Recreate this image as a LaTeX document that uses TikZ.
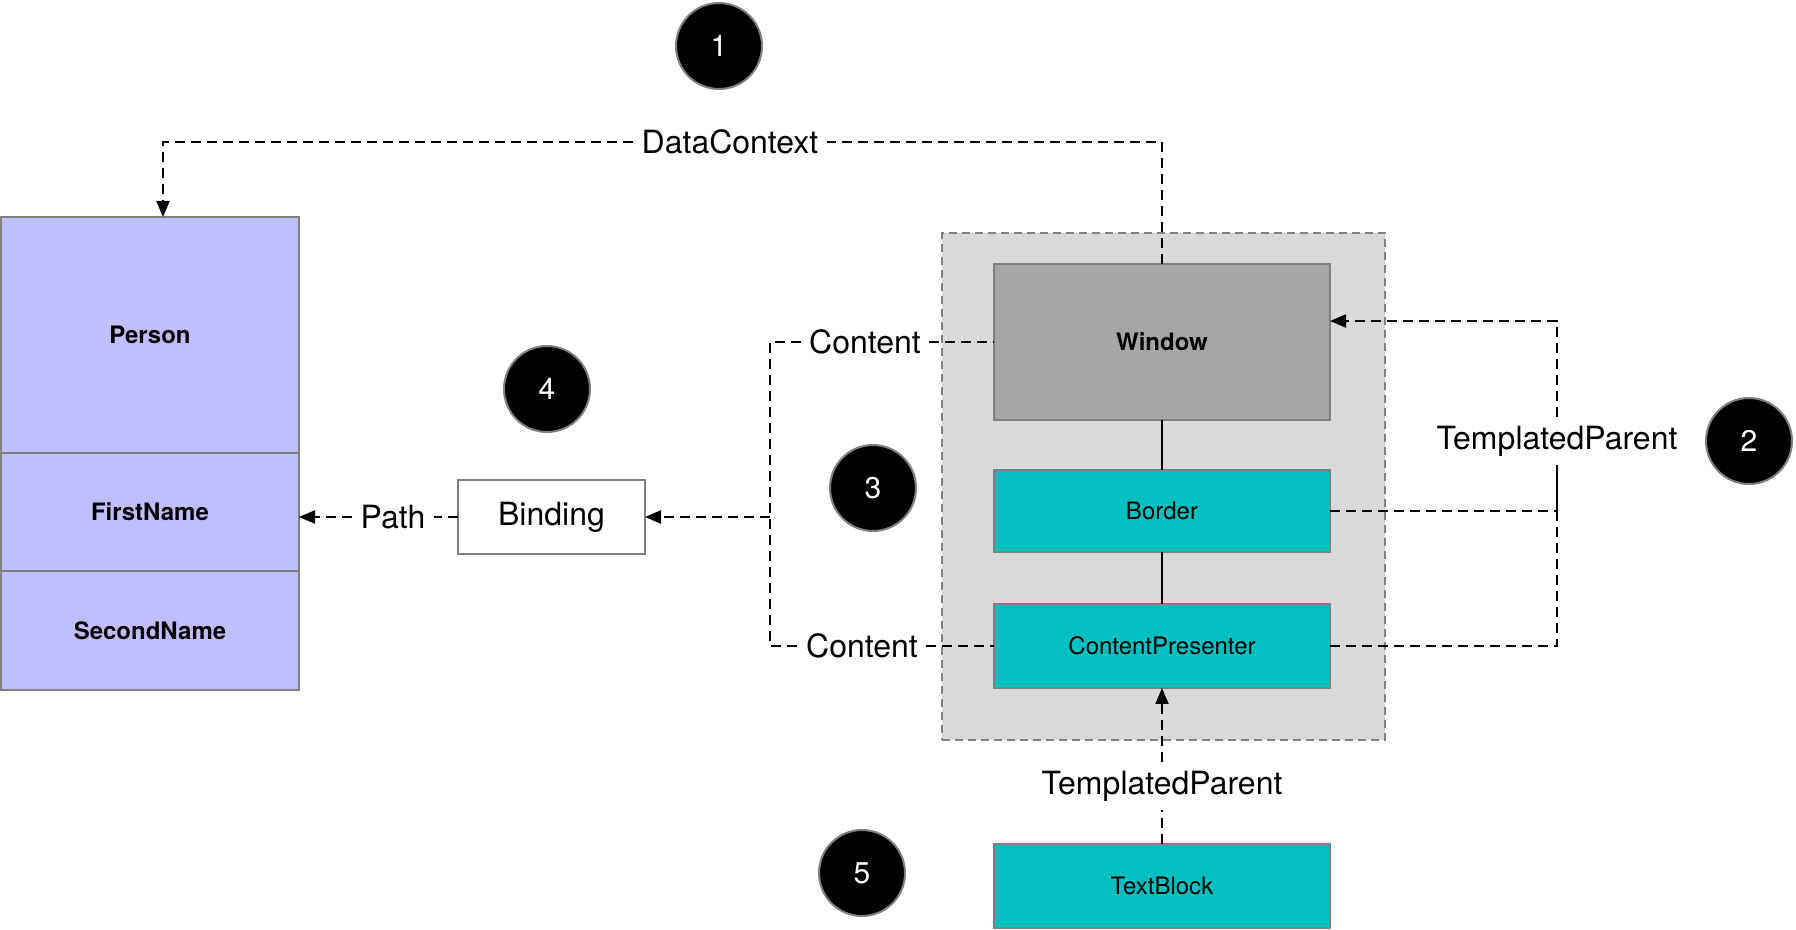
\documentclass[tikz,border=0pt]{standalone}
\usepackage{fontspec}
\setmainfont{TeX Gyre Heros}
\usetikzlibrary{arrows.meta}
\definecolor{personblue}{RGB}{191,191,255}
\definecolor{ctlcyan}{RGB}{0,191,191}
\definecolor{wingray}{RGB}{166,166,166}
\definecolor{boxgray}{RGB}{128,128,128}
\definecolor{tmplgray}{RGB}{217,217,217}
\begin{document}
\begin{tikzpicture}[x=0.5pt, y=-0.5pt,
  >={Triangle[length=8pt,width=6.5pt]},
  dline/.style={line width=1pt, dash pattern=on 5pt off 3pt},
  box/.style={draw=boxgray, line width=1pt, inner sep=0pt, outer sep=0pt,
    minimum width=168pt, font=\fontsize{12}{14}\selectfont},
  field/.style={box, fill=personblue, minimum width=149pt, font=\fontsize{12}{14}\selectfont\bfseries},
  ctl/.style={box, fill=ctlcyan},
  elabel/.style={inner sep=4pt, font=\fontsize{16}{19}\selectfont},
  num/.style={circle, fill=black, draw=boxgray, line width=1pt, minimum size=43pt,
    inner sep=0pt, text=white, font=\fontsize{15}{18}\selectfont}]
  \useasboundingbox (0,0) rectangle (1796,930);
  % template area
  \node[draw=boxgray, fill=tmplgray, line width=1pt, dash pattern=on 4pt off 2.5pt,
    minimum width=221.5pt, minimum height=253.5pt] (tmpl) at (1163.5,486.5) {};
  % data object
  \node[field, minimum height=118pt]  (person)     at (150,335)   {Person};
  \node[field, minimum height=59pt]   (firstname)  at (150,512)   {FirstName};
  \node[field, minimum height=59.5pt] (secondname) at (150,630.5) {SecondName};
  \node[box, minimum width=93.5pt, minimum height=37pt, fill=white,
    font=\fontsize{16}{19}\selectfont] (binding) at (551.5,517) {Binding};
  % visual tree
  \node[box, fill=wingray, minimum height=78pt, font=\fontsize{12}{14}\selectfont\bfseries]
    (window) at (1162,342) {Window};
  \node[ctl, minimum height=41pt] (border)    at (1162,511) {Border};
  \node[ctl, minimum height=42pt] (cp)        at (1162,646) {ContentPresenter};
  \node[ctl, minimum height=42pt] (textblock) at (1162,886) {TextBlock};
  % labels
  \node[elabel] (dc)   at (730,142)  {DataContext};
  \node[elabel] (path) at (393,517)  {Path};
  \node[elabel] (cnt1) at (865,342)  {Content};
  \node[elabel] (cnt2) at (862,646)  {Content};
  \node[elabel] (tp1)  at (1557,441) {TemplatedParent};
  \node[elabel] (tp2)  at (1162,786) {TemplatedParent};
  \coordinate (jn) at (770,517);
  % connectors
  \draw[line width=1pt] (window) -- (border) (border) -- (cp);
  \draw[dline] (window.north) |- (dc.east);
  \draw[dline,->] (dc.west) -| ([xshift=6.5pt]person.north);
  \draw[dline] (cnt1) -- (window);
  \draw[dline] (cnt2) -- (cp);
  \draw[dline] (cnt1) -| (jn) |- (cnt2);
  \draw[dline,->] (jn) -- (binding);
  \draw[dline] (binding) -- (path);
  \draw[dline,->] (path) -- (path -| firstname.east);
  \draw[dline,->] (tp1) |- ([yshift=10.5pt]window.east);
  \draw[dline] (border) -| (tp1);
  \draw[dline] (cp) -| (tp1);
  \draw[dline] (textblock) -- (tp2);
  \draw[dline,->] (tp2) -- (cp);
  % step numbers
  \node[num] (n1) at (719,46)   {1};
  \node[num] (n2) at (1749,441) {2};
  \node[num] (n3) at (873,488)  {3};
  \node[num] (n4) at (547,389)  {4};
  \node[num] (n5) at (862,873)  {5};
\end{tikzpicture}
\end{document}
